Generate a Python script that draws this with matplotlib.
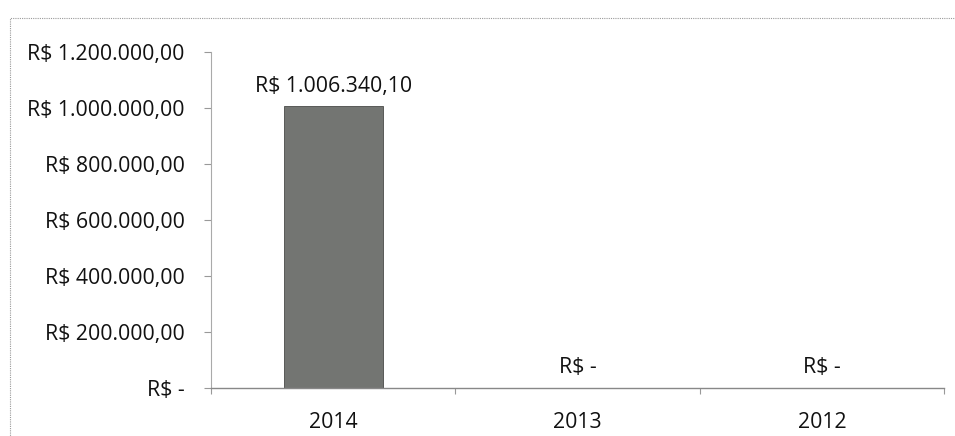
import matplotlib
matplotlib.use("Agg")
import matplotlib.pyplot as plt
from matplotlib.patches import Rectangle

categories = ["2014", "2013", "2012"]
values = [1006340.10, 0.0, 0.0]
value_labels = ["R$ 1.006.340,10", "R$ -", "R$ -"]
yticks = [0, 200000, 400000, 600000, 800000, 1000000, 1200000]
ytick_labels = ["R$ -", "R$ 200.000,00", "R$ 400.000,00", "R$ 600.000,00",
                "R$ 800.000,00", "R$ 1.000.000,00", "R$ 1.200.000,00"]

plt.rcParams['font.family'] = ['Open Sans', 'DejaVu Sans']
FS = 15.3

W, H = 955, 436
fig = plt.figure(figsize=(W / 100, H / 100), dpi=100)
fig.patch.set_facecolor("white")

# outer chart border (dotted gray, extends beyond image at right/bottom)
fig.patches.append(Rectangle((10 / W, -0.05), 1.1, (H - 18) / H + 0.05,
                             transform=fig.transFigure, fill=False,
                             edgecolor="#9a9a9a", linewidth=0.8,
                             linestyle=(0, (1, 1)), zorder=0))

ax = fig.add_axes([211 / W, 48 / H, (944 - 211) / W, (388 - 52) / H])
x = list(range(len(categories)))
ax.bar(x, values, width=0.405, color="#737572", edgecolor="#4a4a48",
       linewidth=0.6, zorder=2)

ax.set_xlim(-0.5, 2.5)
ax.set_ylim(0, 1200000)
ax.set_yticks(yticks)
ax.set_yticklabels(ytick_labels, fontsize=FS, color="#111111")
ax.set_xticks([-0.5, 0.5, 1.5, 2.5], minor=False)
ax.set_xticklabels([])
ax.set_xticks(x, minor=True)
ax.set_xticklabels(categories, minor=True, fontsize=FS, color="#111111")
ax.tick_params(axis="x", which="minor", length=0, pad=17)
ax.tick_params(axis="x", which="major", length=4, color="#999999", direction="out")
ax.tick_params(axis="y", length=5, color="#999999", direction="out", pad=14)

for s in ["top", "right"]:
    ax.spines[s].set_visible(False)
ax.spines["left"].set_color("#aaaaaa")
ax.spines["bottom"].set_color("#888888")
ax.spines["left"].set_linewidth(0.8)
ax.spines["bottom"].set_linewidth(1.0)

for xi, v, lab in zip(x, values, value_labels):
    ax.annotate(lab, (xi, v), xytext=(0, 7), textcoords="offset points",
                ha="center", va="bottom", fontsize=FS, color="#111111")

fig.savefig("out.png", dpi=100, facecolor="white")
